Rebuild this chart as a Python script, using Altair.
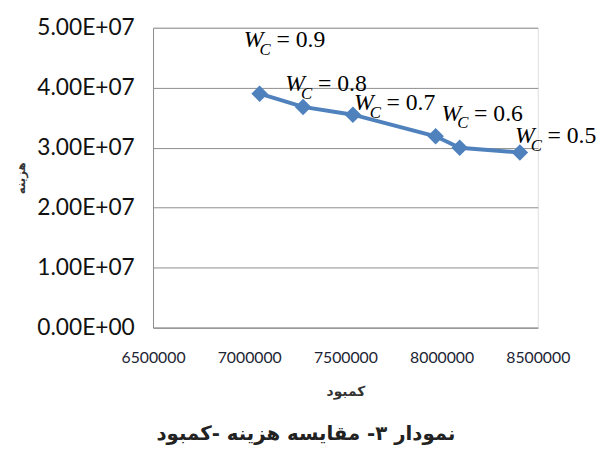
import altair as alt
import pandas as pd

# data
shortage = [7054000, 7280000, 7539000, 7969000, 8094000, 8407000]
cost = [3.90e7, 3.68e7, 3.55e7, 3.19e7, 3.00e7, 2.92e7]
wc_labels = ["0.9", "0.8", "0.7", "0.6", None, "0.5"]
x_ticks = [6500000, 7000000, 7500000, 8000000, 8500000]
y_ticks = [0, 1e7, 2e7, 3e7, 4e7, 5e7]

x_title = "کمبود"
y_title = "هزینه"
caption = "نمودار ۳- مقایسه هزینه -کمبود"

df = pd.DataFrame({"x": shortage, "y": cost, "wc": wc_labels})
df["i"] = range(len(df))

# label offsets (style: pixel placement of each data label)
label_offsets = {0: (-16, -47), 1: (-18, -16), 2: (1, -5), 3: (6, -16), 5: (-5, -10)}

blue = "#4F81BD"
grid = "#8C8C8C"
serif = "Liberation Serif, Times New Roman, serif"

xenc = alt.X("x:Q", scale=alt.Scale(domain=[6500000, 8500000], nice=False, zero=False),
             axis=alt.Axis(values=x_ticks, format="d", grid=False, ticks=False,
                           labelFlush=False,
                           domainColor=grid, labelFont="Lato", labelFontSize=16,
                           labelColor="#1c2433", labelPadding=22,
                           title=x_title, titleFont="DejaVu Sans", titleFontSize=14,
                           titleFontWeight="bold", titleColor="#333", titlePadding=20))
yenc = alt.Y("y:Q", scale=alt.Scale(domain=[0, 5e7], nice=False),
             axis=alt.Axis(values=y_ticks, ticks=False, gridColor=grid, domainColor=grid,
                           labelExpr="replace(format(datum.value, '.2e'), 'e+', 'E+0')",
                           labelFont="Lato", labelFontSize=23, labelColor="#111",
                           labelPadding=19,
                           title=y_title, titleFont="DejaVu Sans", titleFontSize=12,
                           titleFontWeight="bold", titleColor="#333", titlePadding=10))

base = alt.Chart(df)
line = base.mark_line(color=blue, strokeWidth=4).encode(x=xenc, y=yenc)
pts = base.mark_point(shape="diamond", filled=True, color=blue, size=280, opacity=1).encode(x="x:Q", y="y:Q")

layers = [line, pts]
for i, (dx, dy) in label_offsets.items():
    sub = base.transform_filter(alt.datum.i == i)
    layers.append(sub.mark_text(align="left", baseline="alphabetic", dx=dx, dy=dy,
                                font=serif, fontStyle="italic", fontSize=24,
                                color="#000").encode(x="x:Q", y="y:Q", text=alt.value("W")))
    layers.append(sub.mark_text(align="left", baseline="alphabetic", dx=dx + 16, dy=dy + 8,
                                font=serif, fontStyle="italic", fontSize=17,
                                color="#000").encode(x="x:Q", y="y:Q", text=alt.value("C")))
    layers.append(sub.transform_calculate(t="'= ' + datum.wc").mark_text(
        align="left", baseline="alphabetic", dx=dx + 33, dy=dy,
        font=serif, fontSize=24, color="#000").encode(x="x:Q", y="y:Q", text="t:N"))

chart = alt.layer(*layers).properties(
    width=390, height=304,
    autosize=alt.AutoSizeParams(type="none"),
    padding={"left": 147, "top": 17, "right": 59, "bottom": 120},
    title=alt.TitleParams(caption, orient="bottom", anchor="middle", font="DejaVu Sans",
                          fontSize=20, fontWeight="bold", color="#222", offset=26, dx=-40),
).configure_view(stroke=None).configure(background="white")

chart.save("out.html", embed_options={"renderer": "svg", "actions": False})
